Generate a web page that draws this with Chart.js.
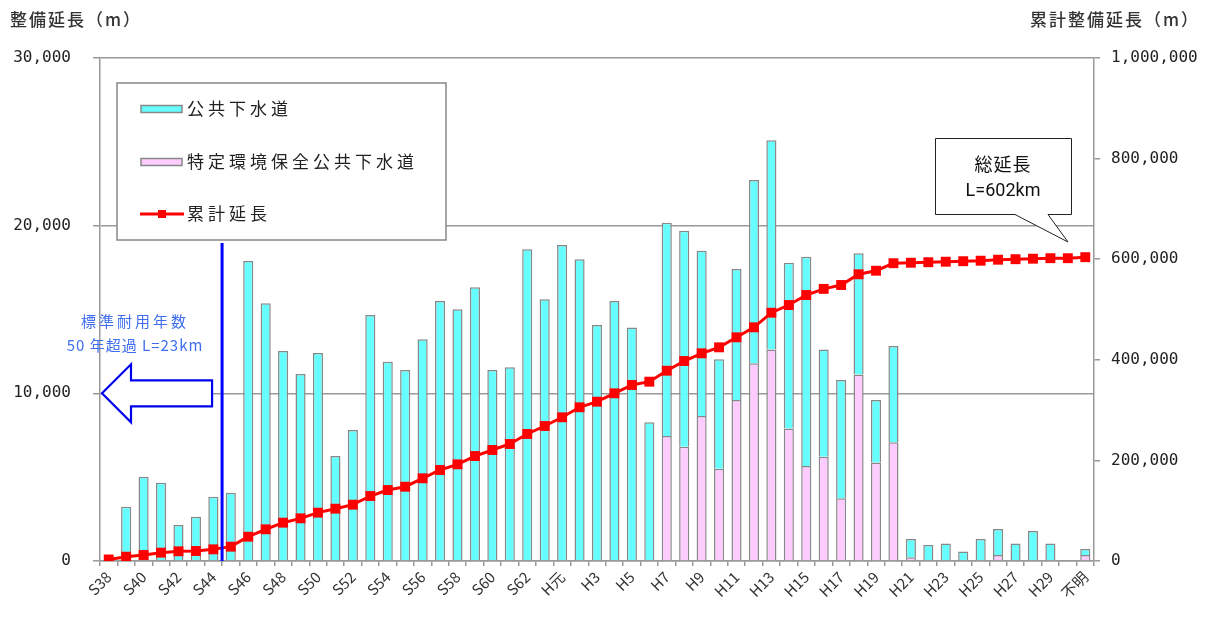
<!DOCTYPE html>
<html>
<head>
<meta charset="utf-8">
<script src="https://cdn.jsdelivr.net/npm/chart.js@4"></script>
<style>
  html, body { margin: 0; padding: 0; background: #fff; }
  #wrap { width: 1221px; height: 624px; }
</style>
</head>
<body>
<div id="wrap"><canvas id="myChart" width="1221" height="624"></canvas></div>
<script>
(function () {
  'use strict';

  // 年度
  const years = [
    'S38', 'S39', 'S40', 'S41', 'S42', 'S43', 'S44', 'S45', 'S46', 'S47',
    'S48', 'S49', 'S50', 'S51', 'S52', 'S53', 'S54', 'S55', 'S56', 'S57',
    'S58', 'S59', 'S60', 'S61', 'S62', 'S63', 'H元', 'H2', 'H3', 'H4',
    'H5', 'H6', 'H7', 'H8', 'H9', 'H10', 'H11', 'H12', 'H13', 'H14',
    'H15', 'H16', 'H17', 'H18', 'H19', 'H20', 'H21', 'H22', 'H23', 'H24',
    'H25', 'H26', 'H27', 'H28', 'H29', 'H30', '不明'
  ];

  // 公共下水道 (m)
  const publicSewer = [
    0, 3240, 5030, 4670, 2150, 2640, 3830, 4070, 17890, 15380,
    12520, 11150, 12400, 6260, 7810, 14670, 11880, 11390, 13220, 15500,
    15010, 16320, 11390, 11550, 18590, 15610, 18840, 18000, 14070, 15500,
    13930, 8270, 12720, 12880, 9850, 6530, 7810, 10930, 12480, 9880,
    12490, 6400, 7050, 7220, 3720, 5740, 1090, 900, 1050, 560,
    1250, 1550, 1050, 1790, 990, 0, 360
  ];

  // 特定環境保全公共下水道 (m)
  const specialSewer = [
    null, null, null, null, null, null, null, null, null, null,
    null, null, null, null, null, null, null, null, null, null,
    null, null, null, null, null, null, null, null, null, null,
    null, null, 7450, 6820, 8650, 5500, 9600, 11790, 12620, 7910,
    5660, 6220, 3740, 11130, 5880, 7080, 220, 50, 0, 0,
    60, 360, 0, 0, 60, 0, 360
  ];

  // 累計延長 (m)
  const cumulative = [
    3000, 8600, 11900, 16600, 19300, 19900, 23200, 28500, 48300, 63000,
    76200, 84800, 96100, 104000, 112000, 129200, 141100, 147700, 164400, 180900,
    192200, 208700, 220700, 232600, 252500, 268400, 285700, 305600, 316700, 333400,
    349900, 356500, 378300, 397600, 412900, 424800, 444700, 464600, 493600, 508900,
    528800, 541000, 548700, 570000, 577100, 592000, 593000, 594000, 595000, 596000,
    597000, 599000, 600000, 601000, 602000, 602000, 604000
  ];

  const leftTicks = [0, 10000, 20000, 30000];
  const rightTicks = [0, 200000, 400000, 600000, 800000, 1000000];

  const JP = '"Noto Sans CJK JP", sans-serif';
  const NUM = '"DejaVu Sans Mono", monospace';

  const fmt = v => Number(v).toLocaleString('en-US');

  function txt(ctx, s, x, y, font, color, align, spacing) {
    ctx.save();
    ctx.font = font;
    ctx.fillStyle = color;
    ctx.textAlign = align || 'left';
    ctx.textBaseline = 'middle';
    ctx.letterSpacing = spacing || '0px';
    ctx.fillText(s, x, y);
    ctx.restore();
  }

  // 注記・凡例などを描く
  const extras = {
    id: 'extras',
    afterDraw(chart) {
      const ctx = chart.ctx;
      const xs = chart.scales.x;
      const ys = chart.scales.y;
      const area = chart.chartArea;

      // 軸タイトル
      txt(ctx, '整備延長（m）', 10, 20, '500 17px ' + JP, '#333', 'left', '2px');
      txt(ctx, '累計整備延長（m）', 1200, 20, '500 17px ' + JP, '#333', 'right', '2px');

      // 50年超過ライン
      const lx = (xs.getPixelForValue(6) + xs.getPixelForValue(7)) / 2;
      ctx.save();
      ctx.strokeStyle = '#0000ff';
      ctx.lineWidth = 3;
      ctx.beginPath();
      ctx.moveTo(lx, 243);
      ctx.lineTo(lx, area.bottom);
      ctx.stroke();

      // 矢印
      const ay = ys.getPixelForValue(10000);
      const tipX = area.left + 2;
      ctx.fillStyle = '#fff';
      ctx.lineWidth = 2.2;
      ctx.strokeStyle = '#0000ee';
      ctx.beginPath();
      ctx.moveTo(tipX, ay);
      ctx.lineTo(tipX + 29, ay - 29);
      ctx.lineTo(tipX + 29, ay - 13);
      ctx.lineTo(lx - 10, ay - 13);
      ctx.lineTo(lx - 10, ay + 13);
      ctx.lineTo(tipX + 29, ay + 13);
      ctx.lineTo(tipX + 29, ay + 29);
      ctx.closePath();
      ctx.fill();
      ctx.stroke();
      ctx.restore();

      txt(ctx, '標準耐用年数', 135, 321, '15px ' + JP, '#3f6ff0', 'center', '3px');
      txt(ctx, '50 年超過 L=23km', 135, 345, '15px ' + JP, '#3f6ff0', 'center', '1px');

      // 凡例
      ctx.save();
      ctx.fillStyle = '#fff';
      ctx.strokeStyle = '#888';
      ctx.lineWidth = 1.5;
      ctx.fillRect(117, 83, 329, 157);
      ctx.strokeRect(117, 83, 329, 157);
      const ds = chart.data.datasets;
      const rows = [
        { d: ds[2], y: 109 },
        { d: ds[1], y: 162 },
        { d: ds[0], y: 214 }
      ];
      rows.forEach(r => {
        if (r.d.type === 'line') {
          ctx.strokeStyle = r.d.borderColor;
          ctx.lineWidth = 3;
          ctx.beginPath();
          ctx.moveTo(140, r.y);
          ctx.lineTo(184, r.y);
          ctx.stroke();
          ctx.fillStyle = r.d.borderColor;
          ctx.fillRect(158, r.y - 4, 8, 8);
        } else {
          ctx.fillStyle = r.d.backgroundColor;
          ctx.strokeStyle = '#888';
          ctx.lineWidth = 1.5;
          ctx.fillRect(141, r.y - 3.5, 41, 7);
          ctx.strokeRect(141, r.y - 3.5, 41, 7);
        }
        txt(ctx, r.d.label, 187, r.y, '17px ' + JP, '#222', 'left', '4px');
      });
      ctx.restore();

      // 総延長の吹き出し
      ctx.save();
      ctx.fillStyle = '#fff';
      ctx.strokeStyle = '#222';
      ctx.lineWidth = 1;
      ctx.beginPath();
      ctx.moveTo(935.5, 138.5);
      ctx.lineTo(1071.5, 138.5);
      ctx.lineTo(1071.5, 214.5);
      ctx.lineTo(1048, 214.5);
      ctx.lineTo(1068, 242);
      ctx.lineTo(1015, 214.5);
      ctx.lineTo(935.5, 214.5);
      ctx.closePath();
      ctx.fill();
      ctx.stroke();
      ctx.restore();
      txt(ctx, '総延長', 1003, 164, '18px ' + JP, '#111', 'center', '1px');
      txt(ctx, 'L=602km', 1003, 191, '18px Roboto, ' + JP, '#111', 'center', '0px');
    }
  };

  const ctx = document.getElementById('myChart').getContext('2d');
  new Chart(ctx, {
    data: {
      labels: years,
      datasets: [
        {
          type: 'line', label: '累計延長', data: cumulative, yAxisID: 'y1', order: 0,
          borderColor: '#ff0000', backgroundColor: '#ff0000', borderWidth: 3,
          pointStyle: 'rect', pointRadius: 7, pointBorderWidth: 0,
          pointBackgroundColor: '#ff0000', fill: false, tension: 0
        },
        {
          type: 'bar', label: '特定環境保全公共下水道', data: specialSewer, yAxisID: 'y', order: 1,
          backgroundColor: '#ffccff', borderColor: '#888', borderWidth: 1.5,
          barPercentage: 0.58, categoryPercentage: 1.0
        },
        {
          type: 'bar', label: '公共下水道', data: publicSewer, yAxisID: 'y', order: 2,
          backgroundColor: '#66ffff', borderColor: '#888', borderWidth: 1.5,
          barPercentage: 0.58, categoryPercentage: 1.0
        }
      ]
    },
    options: {
      responsive: false,
      animation: false,
      layout: { padding: { top: 58, left: 0, right: 0, bottom: 0 } },
      plugins: {
        legend: { display: false },
        title: { display: false },
        tooltip: { enabled: false }
      },
      scales: {
        x: {
          stacked: true,
          offset: true,
          grid: { offset: true, drawOnChartArea: false, tickLength: 5, color: '#999', lineWidth: 1.5 },
          border: { color: '#999', width: 1.5 },
          ticks: {
            autoSkip: false, maxRotation: 45, minRotation: 45, padding: 2,
            color: '#333', font: { family: JP, size: 15 },
            callback: (v, i) => (i % 2 === 0 ? years[i] : '')
          },
          afterFit: s => { s.height = 63; }
        },
        y: {
          stacked: true,
          position: 'left',
          min: 0, max: 30000,
          afterBuildTicks: s => { s.ticks = leftTicks.map(v => ({ value: v })); },
          grid: { color: '#999', lineWidth: 1.5, tickLength: 7 },
          border: { color: '#999', width: 1.5 },
          ticks: { padding: 22, color: '#222', font: { family: NUM, size: 16 }, callback: v => fmt(v) },
          afterFit: s => { s.width = 100; }
        },
        y1: {
          position: 'right',
          min: 0, max: 1000000,
          afterBuildTicks: s => { s.ticks = rightTicks.map(v => ({ value: v })); },
          grid: { drawOnChartArea: false, color: '#999', lineWidth: 1.5, tickLength: 6 },
          border: { color: '#999', width: 1.5 },
          ticks: { padding: 11, color: '#222', font: { family: NUM, size: 16 }, callback: v => fmt(v) },
          afterFit: s => { s.width = 127; }
        }
      }
    },
    plugins: [extras]
  });
})();
</script>
</body>
</html>
